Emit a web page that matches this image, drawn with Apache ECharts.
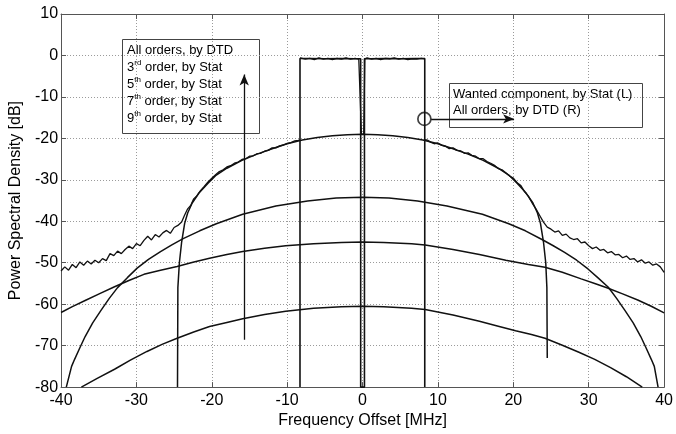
<!DOCTYPE html>
<html>
<head>
<meta charset="utf-8">
<script src="https://cdn.jsdelivr.net/npm/echarts@6/dist/echarts.min.js"></script>
<style>
  html, body { margin: 0; padding: 0; background: #fff; }
  #chart { width: 676px; height: 434px; }
</style>
</head>
<body>
<div id="chart"></div>
<script>
// all values: [frequency offset MHz, PSD dB]
const xTicks = [-40, -30, -20, -10, 0, 10, 20, 30, 40];
const yTicks = [-80, -70, -60, -50, -40, -30, -20, -10, 0, 10];

const wanted = [
  [-8.3, -80], [-8.3, -0.75], [-7.0, -0.75], [-5.0, -0.8], [-3.0, -0.75], [-1.0, -0.8],
  [-0.25, -0.8], [-0.25, -80], [0.25, -80], [0.25, -0.8], [1.0, -0.8], [3.0, -0.75],
  [5.0, -0.8], [7.0, -0.75], [8.25, -0.75], [8.25, -80]
];

const dtdLeft = [
  [-40, -52.0], [-39.5, -51.0], [-39.0, -51.8], [-38.5, -50.4], [-38.0, -51.2], [-37.5, -49.8],
  [-37.0, -50.6], [-36.5, -49.6], [-36.0, -50.3], [-35.5, -49.4], [-35.0, -50.0], [-34.5, -49.0],
  [-34.0, -49.5], [-33.5, -47.8], [-33.0, -48.3], [-32.5, -47.2], [-32.0, -47.8], [-31.5, -46.8],
  [-31.0, -46.0], [-30.5, -46.6], [-30.0, -45.4], [-29.5, -45.9], [-29.0, -44.6], [-28.5, -43.6],
  [-28.0, -44.5], [-27.5, -43.2], [-27.0, -43.8], [-26.5, -42.8], [-26.0, -42.2], [-25.5, -42.9],
  [-25.0, -41.5], [-24.5, -41.0], [-24.0, -40.2], [-23.6, -38.5], [-23.2, -37.0], [-22.8, -36.2],
  [-22.4, -34.6], [-22.0, -33.9], [-21.5, -32.6], [-21.0, -31.6], [-20.5, -30.5], [-20.0, -29.6],
  [-19.5, -28.8], [-19.0, -28.0], [-18.5, -27.6], [-18.0, -26.9], [-17.5, -26.6], [-17.0, -26.0],
  [-16.5, -25.7], [-16.0, -25.1], [-15.5, -24.9], [-15.0, -24.3], [-14.5, -24.2], [-14.0, -23.7],
  [-13.5, -23.6], [-13.0, -23.1], [-12.5, -22.9], [-12.0, -22.3], [-11.5, -22.3], [-11.0, -21.8],
  [-10.5, -21.6], [-10.0, -21.2], [-9.5, -21.0], [-9.0, -20.6], [-8.5, -20.5], [-8.35, -20.3]
];

const dtdTop = [
  [-8.3, -0.6], [-7.6, -0.9], [-7.0, -0.7], [-6.4, -1.0], [-5.8, -0.6], [-5.2, -0.9],
  [-4.6, -0.7], [-4.0, -1.0], [-3.4, -0.7], [-2.8, -0.9], [-2.2, -0.6], [-1.6, -0.9],
  [-1.0, -0.7], [-0.5, -0.9], [-0.3, -0.8], [-0.15, -19], [0.15, -19], [0.3, -0.8],
  [0.6, -0.6], [1.2, -0.9], [1.8, -0.7], [2.4, -1.0], [3.0, -0.7], [3.6, -0.8],
  [4.2, -0.6], [4.8, -0.9], [5.4, -0.7], [6.0, -1.0], [6.6, -0.8], [7.2, -0.9],
  [7.8, -0.7], [8.2, -0.8]
];

const dtdRight = [
  [8.3, -20.3], [8.6, -20.4], [9.0, -20.9], [9.5, -21.3], [10.0, -21.1], [10.5, -21.7],
  [11.0, -21.9], [11.5, -22.5], [12.0, -22.3], [12.5, -22.9], [13.0, -23.0], [13.5, -23.6],
  [14.0, -23.5], [14.5, -24.1], [15.0, -24.3], [15.5, -24.9], [16.0, -24.9], [16.5, -25.6],
  [17.0, -26.0], [17.5, -26.5], [18.0, -27.3], [18.5, -27.6], [19.0, -28.3], [19.5, -29.1],
  [20.0, -29.6], [20.5, -30.7], [21.0, -31.4], [21.5, -32.9], [22.0, -34.0], [22.5, -35.6],
  [23.0, -37.0], [23.5, -38.6], [24.0, -40.2], [24.5, -41.4], [25.0, -41.9], [25.5, -42.6],
  [26.0, -42.3], [26.5, -43.4], [27.0, -43.1], [27.5, -44.0], [28.0, -44.4], [28.5, -44.2],
  [29.0, -45.2], [29.5, -45.0], [30.0, -45.9], [30.5, -46.6], [31.0, -46.2], [31.5, -47.0],
  [32.0, -46.8], [32.5, -47.6], [33.0, -47.3], [33.5, -48.1], [34.0, -48.0], [34.5, -48.8],
  [35.0, -48.4], [35.5, -49.2], [36.0, -49.0], [36.5, -49.8], [37.0, -49.3], [37.5, -50.1],
  [38.0, -49.8], [38.5, -50.6], [39.0, -50.3], [39.5, -51.0], [40.0, -52.3]
];

const third = [
  [-24.55, -80], [-24.5, -56], [-24.3, -50], [-24.0, -45], [-23.6, -40.5], [-23.2, -38],
  [-22.6, -35.6], [-21.7, -33.2], [-20.5, -30.8], [-19.5, -29.0], [-18.0, -27.2], [-16.0, -25.3],
  [-14.0, -23.8], [-12.0, -22.5], [-10.0, -21.3], [-8.0, -20.4], [-6.0, -19.8], [-4.0, -19.35],
  [-2.0, -19.1], [0, -19.0], [2.0, -19.1], [4.0, -19.35], [6.0, -19.8], [8.0, -20.4],
  [10.0, -21.3], [12.0, -22.5], [14.0, -23.8], [16.0, -25.3], [18.0, -27.2], [19.5, -29.0],
  [20.5, -30.8], [21.7, -33.2], [22.6, -35.6], [23.2, -38], [23.6, -40.5], [24.0, -45],
  [24.3, -50], [24.45, -56], [24.5, -73]
];

const fifth = [
  [-39.3, -80], [-38.6, -75], [-38.2, -73.3], [-37.5, -70.5], [-36.8, -67.8], [-35.8, -64.5],
  [-34.7, -61.5], [-33.6, -58.6], [-32.5, -56], [-31.2, -53.6], [-29.9, -51.3], [-28.4, -49.2],
  [-26.8, -47.3], [-25.3, -45.7], [-23.8, -44.2], [-21.6, -42.3], [-19.4, -40.6], [-15.9, -38.3],
  [-11.5, -36.3], [-7.3, -35.1], [-3.5, -34.4], [0, -34.2], [3.5, -34.4], [7.3, -35.1],
  [11.2, -36.3], [15.9, -38.3], [19.4, -40.6], [21.6, -42.3], [23.8, -44.4], [25.3, -45.9],
  [26.8, -47.5], [28.4, -49.4], [29.9, -51.5], [31.2, -53.6], [32.6, -55.9], [33.7, -58.6],
  [34.8, -61.5], [35.9, -64.5], [36.9, -67.8], [37.6, -70.5], [38.3, -73.3], [38.7, -75],
  [39.2, -80]
];

const seventh = [
  [-40, -62], [-38.5, -60.6], [-36.8, -59.1], [-34.8, -57.4], [-32.9, -55.8], [-31.0, -54.3],
  [-29.0, -52.8], [-26.8, -51.8], [-24.6, -50.9], [-22.5, -49.9], [-20.3, -48.9], [-18.0, -48.0],
  [-15.9, -47.3], [-13.0, -46.5], [-10.2, -45.9], [-6.5, -45.4], [-2.8, -45.1], [0, -45],
  [2.8, -45.1], [6.5, -45.4], [8.3, -45.7], [12.0, -46.8], [15.5, -48.0], [19.0, -49.4],
  [22.0, -50.4], [24.2, -51.1], [26.5, -52.3], [29.0, -53.9], [30.8, -55.0], [32.5, -56.1],
  [34.5, -57.5], [36.5, -59.0], [38.3, -60.5], [40, -62.1]
];

const ninth = [
  [-37.3, -80], [-35.2, -77.9], [-32.9, -75.7], [-30.8, -73.5], [-28.6, -71.4], [-26.6, -69.7],
  [-24.6, -68.2], [-22.4, -66.7], [-20.3, -65.4], [-18.0, -64.4], [-15.9, -63.5], [-13.0, -62.5],
  [-10.2, -61.7], [-6.5, -61.0], [-2.8, -60.6], [0, -60.5], [2.8, -60.6], [6.5, -61.0],
  [8.3, -61.3], [12.0, -62.6], [15.5, -64.1], [18.0, -65.3], [20.3, -66.4], [22.4, -67.3],
  [24.2, -68.2], [26.5, -69.9], [28.7, -71.6], [30.8, -73.3], [32.9, -75.3], [35.0, -77.5],
  [37.1, -80]
];

// annotations
const upArrow = [[-15.7, -68.6], [-15.7, -4.6]];
const circleMark = [[8.2, -15.3]];
const sideArrow = [[9.1, -15.3], [20.1, -15.3]];

const boxLeft = [
  'All orders, by DTD',
  '3{sup|rd} order, by Stat',
  '5{sup|th} order, by Stat',
  '7{sup|th} order, by Stat',
  '9{sup|th} order, by Stat'
];
const boxRight = [
  'Wanted component, by Stat (L)',
  'All orders, by DTD (R)'
];

const FONT = 'Liberation Sans, Arial, Helvetica, sans-serif';
const INK = '#111';

function curve(name, data, width) {
  return {
    name: name,
    type: 'line',
    data: data,
    symbol: 'none',
    smooth: false,
    animation: false,
    lineStyle: { color: INK, width: width || 1.5 }
  };
}

const chart = echarts.init(document.getElementById('chart'), null, { renderer: 'canvas' });

const gridLine = { show: true, lineStyle: { color: '#9a9a9a', width: 1, type: [1, 2] } };
const frame = { show: true, onZero: false, lineStyle: { color: '#555', width: 1 } };
const innerTick = { show: true, inside: true, length: 5, lineStyle: { color: '#555' } };

const option = {
  backgroundColor: '#fff',
  animation: false,
  grid: { left: 56, right: 9, top: 14, bottom: 39, containLabel: false },
  xAxis: [
    {
      type: 'value', min: xTicks[0], max: xTicks[xTicks.length - 1], interval: 10,
      axisLine: frame, axisTick: innerTick, splitLine: gridLine,
      axisLabel: { color: '#000', fontSize: 16, fontFamily: FONT, margin: 5 },
      name: 'Frequency Offset [MHz]', nameLocation: 'middle', nameGap: 22,
      nameTextStyle: { color: '#000', fontSize: 16, fontFamily: FONT }
    },
    {
      type: 'value', position: 'top', min: xTicks[0], max: xTicks[xTicks.length - 1], interval: 10,
      axisLine: frame, axisTick: innerTick, splitLine: { show: false }, axisLabel: { show: false }
    }
  ],
  yAxis: [
    {
      type: 'value', min: yTicks[0], max: yTicks[yTicks.length - 1], interval: 10,
      axisLine: frame, axisTick: innerTick, splitLine: gridLine,
      axisLabel: { color: '#000', fontSize: 16, fontFamily: FONT, margin: 3 },
      name: 'Power Spectral Density [dB]', nameLocation: 'middle', nameGap: 36, nameRotate: 90,
      nameTextStyle: { color: '#000', fontSize: 16, fontFamily: FONT }
    },
    {
      type: 'value', position: 'right', min: yTicks[0], max: yTicks[yTicks.length - 1], interval: 10,
      axisLine: frame, axisTick: innerTick, splitLine: { show: false }, axisLabel: { show: false }
    }
  ],
  series: [
    curve('9th order', ninth),
    curve('7th order', seventh),
    curve('5th order', fifth),
    curve('3rd order', third),
    curve('DTD left', dtdLeft, 1.3),
    curve('DTD right', dtdRight, 1.3),
    curve('DTD top', dtdTop, 1.3),
    Object.assign(curve('Wanted', wanted, 1.6), {
      markLine: {
        silent: true,
        animation: false,
        symbol: ['none', 'arrow'],
        symbolSize: [7, 11],
        label: { show: false },
        lineStyle: { color: INK, width: 1.3, type: 'solid' },
        data: [
          [{ coord: upArrow[0] }, { coord: upArrow[1] }],
          [{ coord: sideArrow[0] }, { coord: sideArrow[1] }]
        ]
      }
    }),
    {
      name: 'circle',
      type: 'scatter',
      data: circleMark,
      symbol: 'circle',
      symbolSize: 13,
      animation: false,
      itemStyle: { color: 'rgba(0,0,0,0)', borderColor: INK, borderWidth: 1.7 }
    }
  ],
  graphic: [
    {
      type: 'rect', left: 122, top: 39, silent: true,
      shape: { width: 137, height: 94 },
      style: { fill: '#fff', stroke: '#444', lineWidth: 1 }
    },
    {
      type: 'text', left: 127, top: 42, silent: true,
      style: {
        text: boxLeft.join('\n'), fill: '#000', fontSize: 13, fontFamily: FONT, lineHeight: 17,
        rich: { sup: { fontSize: 8, fontFamily: FONT, verticalAlign: 'top', lineHeight: 12, fill: '#000' } }
      }
    },
    {
      type: 'rect', left: 449, top: 83, silent: true,
      shape: { width: 193, height: 44 },
      style: { fill: '#fff', stroke: '#444', lineWidth: 1 }
    },
    {
      type: 'text', left: 453, top: 86, silent: true,
      style: { text: boxRight.join('\n'), fill: '#000', fontSize: 13, fontFamily: FONT, lineHeight: 16 }
    }
  ]
};

chart.setOption(option);
</script>
</body>
</html>
